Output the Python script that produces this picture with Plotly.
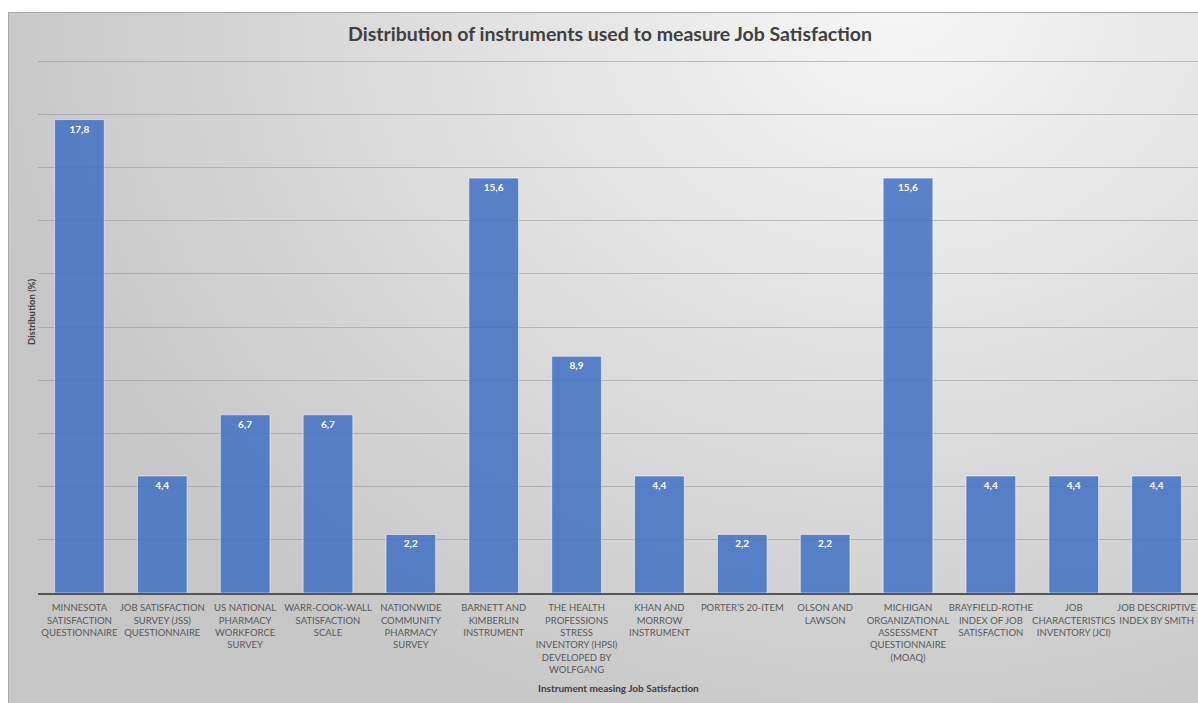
import base64
import struct
import zlib

import plotly.graph_objects as go

# ---------------- data ----------------
categories = [
    "MINNESOTA<br>SATISFACTION<br>QUESTIONNAIRE",
    "JOB SATISFACTION<br>SURVEY (JSS)<br>QUESTIONNAIRE",
    "US NATIONAL<br>PHARMACY<br>WORKFORCE<br>SURVEY",
    "WARR-COOK-WALL<br>SATISFACTION<br>SCALE",
    "NATIONWIDE<br>COMMUNITY<br>PHARMACY<br>SURVEY",
    "BARNETT AND<br>KIMBERLIN<br>INSTRUMENT",
    "THE HEALTH<br>PROFESSIONS<br>STRESS<br>INVENTORY (HPSI)<br>DEVELOPED BY<br>WOLFGANG",
    "KHAN AND<br>MORROW<br>INSTRUMENT",
    "PORTER’S 20-ITEM",
    "OLSON AND<br>LAWSON",
    "MICHIGAN<br>ORGANIZATIONAL<br>ASSESSMENT<br>QUESTIONNAIRE<br>(MOAQ)",
    "BRAYFIELD-ROTHE<br>INDEX OF JOB<br>SATISFACTION",
    "JOB<br>CHARACTERISTICS<br>INVENTORY (JCI)",
    "JOB DESCRIPTIVE<br>INDEX BY SMITH",
]
values = [17.8, 4.4, 6.7, 6.7, 2.2, 15.6, 8.9, 4.4, 2.2, 2.2, 15.6, 4.4, 4.4, 4.4]
value_labels = [f"{v:.1f}".replace(".", ",") for v in values]

title_text = "Distribution of instruments used to measure Job Satisfaction"
x_title = "Instrument measing Job Satisfaction"
y_title = "Distribution (%)"

# ---------------- background gradient (styling only) ----------------
W, H = 1198, 703
PL, PR, PT, PB = 38, 1198, 60, 593  # plot area in px
FX0, FY0 = 8, 12                    # frame top-left in px


def gradient_png(w, h):
    rows = []
    for j in range(h):
        row = bytearray([0])
        py = FY0 + (H - FY0) * j / (h - 1)
        for i in range(w):
            px = FX0 + (W - FX0) * i / (w - 1)
            dx = (px - 900) / 950.0
            dy = (py - 0) / 800.0
            t = min(1.0, (dx * dx + dy * dy) ** 0.5)
            c = int(round(246 - t * (246 - 198)))
            row += bytes([c, c, c])
        rows.append(bytes(row))
    raw = b"".join(rows)

    def chunk(tag, data):
        return (struct.pack(">I", len(data)) + tag + data
                + struct.pack(">I", zlib.crc32(tag + data) & 0xFFFFFFFF))

    png = b"\x89PNG\r\n\x1a\n"
    png += chunk(b"IHDR", struct.pack(">IIBBBBB", w, h, 8, 2, 0, 0, 0))
    png += chunk(b"IDAT", zlib.compress(raw, 9))
    png += chunk(b"IEND", b"")
    return "data:image/png;base64," + base64.b64encode(png).decode()


def px_to_paper_x(px):
    return (px - PL) / (PR - PL)


def px_to_paper_y(py):
    return (PB - py) / (PB - PT)


bg = gradient_png(240, 140)

FONT = "Lato"

fig = go.Figure()
fig.add_trace(go.Bar(
    x=categories,
    y=values,
    text=value_labels,
    textposition="inside",
    insidetextanchor="end",
    textangle=0,
    constraintext="none",
    textfont=dict(family=FONT, size=10, color="white", weight="bold"),
    marker=dict(color="rgba(68,114,196,0.87)",
                line=dict(color="rgba(255,255,255,0.55)", width=1)),
    hoverinfo="x+y",
))

fig.update_layout(
    width=W, height=H,
    margin=dict(l=PL, r=W - PR, t=PT, b=H - PB, autoexpand=False),
    paper_bgcolor="white",
    plot_bgcolor="rgba(0,0,0,0)",
    bargap=0.4,
    showlegend=False,
    font=dict(family=FONT, color="#595959"),
    title=dict(text=title_text, x=610 / W, xanchor="center",
               y=1 - 34 / H, yanchor="middle",
               font=dict(family=FONT, size=19.5, color="#404040", weight="bold")),
    images=[dict(source=bg, xref="paper", yref="paper",
                 x=px_to_paper_x(FX0), y=px_to_paper_y(FY0),
                 sizex=(W + 1 - FX0) / (PR - PL), sizey=(H + 1 - FY0) / (PB - PT),
                 xanchor="left", yanchor="top", sizing="stretch", layer="below")],
    shapes=[dict(type="rect", xref="paper", yref="paper",
                 x0=px_to_paper_x(FX0 + 0.5), x1=px_to_paper_x(W + 4),
                 y0=px_to_paper_y(H + 4), y1=px_to_paper_y(FY0 + 0.5),
                 line=dict(color="#a9a9a9", width=1), fillcolor="rgba(0,0,0,0)",
                 layer="below")],
    annotations=[
        dict(text=f"<b>{x_title}</b>", xref="paper", yref="paper",
             x=px_to_paper_x(618), y=px_to_paper_y(688),
             xanchor="center", yanchor="middle", showarrow=False,
             font=dict(family=FONT, size=10, color="#404040")),
        dict(text=f"<b>{y_title}</b>", xref="paper", yref="paper",
             x=px_to_paper_x(31), y=px_to_paper_y(312),
             xanchor="center", yanchor="middle", showarrow=False, textangle=-90,
             font=dict(family=FONT, size=9.5, color="#404040")),
    ],
)

fig.update_xaxes(
    showgrid=False, showline=True, linecolor="#555555", linewidth=1.5,
    ticks="", tickangle=0, ticklabelstandoff=5,
    tickfont=dict(family=FONT, size=9.5, color="#595959"),
    fixedrange=True,
)
fig.update_yaxes(
    range=[0, 20.04], dtick=2, showticklabels=False, ticks="",
    showgrid=True, gridcolor="rgba(150,150,150,0.55)", gridwidth=1,
    zeroline=False, fixedrange=True,
)

fig.write_html("out.html")
